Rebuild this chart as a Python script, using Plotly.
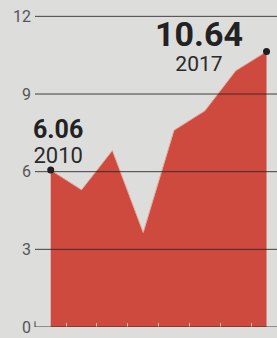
import plotly.graph_objects as go

years = [2010, 2011, 2012, 2013, 2014, 2015, 2016, 2017]
values = [6.06, 5.3, 6.82, 3.65, 7.6, 8.35, 9.9, 10.64]
y_ticks = [0, 3, 6, 9, 12]
x_ticks = [2010.5, 2011.5, 2012.5, 2013.5, 2014.5, 2015.5, 2016.5]

RED = "#cf4a3e"
BG = "#dddddc"

fig = go.Figure()
fig.add_trace(go.Scatter(
    x=years, y=values, mode="lines", fill="tozeroy",
    fillcolor=RED, line=dict(color="#e4ab9f", width=1),
    hoverinfo="skip", showlegend=False))
fig.add_trace(go.Scatter(
    x=[years[0], years[-1]], y=[values[0], values[-1]], mode="markers",
    marker=dict(color="#1e1e1e", size=7), hoverinfo="skip", showlegend=False))

# gridlines drawn above the fill
for t in y_ticks:
    fig.add_shape(type="line", xref="paper", yref="y", x0=0, x1=1, y0=t, y1=t,
                  line=dict(color="rgba(40,35,35,0.85)", width=1), layer="above")
# small hook at the left end of the baseline
fig.add_shape(type="line", xref="paper", yref="y", x0=0, x1=0,
              y0=y_ticks[0], y1=y_ticks[0] + 0.22,
              line=dict(color="rgba(40,35,35,0.85)", width=1), layer="above")

def label(value, year, big, small):
    return (f"<span style='font-size:{big}px;color:#222'><b>{value:.2f}</b></span><br>"
            f"<span style='font-size:{small}px;color:#2a2a2a'>{year}</span>")

fig.add_annotation(x=years[0], y=values[0], text=label(values[0], years[0], 25, 22),
                   showarrow=False, align="center",
                   xanchor="center", yanchor="bottom", xshift=7, yshift=0.5,
                   font=dict(family="Roboto", size=19.5, color="#222"))
fig.add_annotation(x=years[-1], y=values[-1], text=label(values[-1], years[-1], 34, 21),
                   showarrow=False, align="center",
                   xanchor="center", yanchor="middle", xshift=-68, yshift=6.5,
                   font=dict(family="Roboto", size=19.5, color="#222"))

fig.update_layout(
    width=277, height=338,
    margin=dict(l=35, r=0, t=6, b=11),
    paper_bgcolor=BG, plot_bgcolor=BG,
    xaxis=dict(range=[2009.49, 2017.34], showgrid=False, zeroline=False,
               tickvals=x_ticks, showticklabels=False, ticks="inside",
               ticklen=4, tickcolor="rgba(245,220,210,0.8)", tickwidth=1,
               layer="above traces", fixedrange=True),
    yaxis=dict(range=[0, 12.4], tickvals=y_ticks, showgrid=False, zeroline=False,
               ticks="", ticklabelstandoff=3,
               tickfont=dict(family="Roboto", size=16, color="#555"),
               fixedrange=True),
)

fig.write_html("out.html", config={"displayModeBar": False},
               post_script="document.body.style.margin='0';document.body.style.background='" + BG + "';")
